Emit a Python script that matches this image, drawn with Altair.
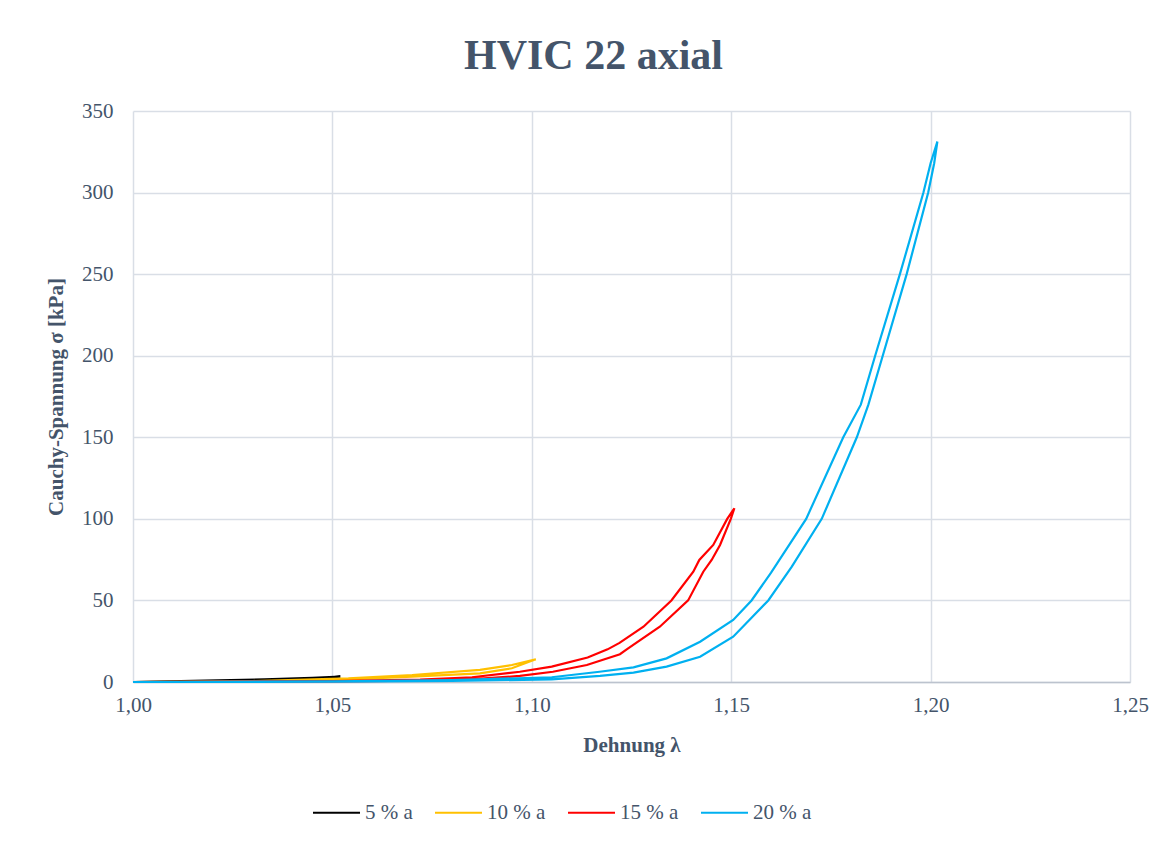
import altair as alt
import pandas as pd

# ---- data ----
series_names = ["5 % a", "10 % a", "15 % a", "20 % a"]
series_colors = ["#000000", "#FFC000", "#FF0000", "#00B0F0"]

lam5_up = [1.000, 1.012, 1.033, 1.045, 1.052]
sig5_up = [0.0, 0.6, 1.6, 2.5, 3.3]
lam5_dn = [1.052, 1.045, 1.033, 1.012, 1.000]
sig5_dn = [3.3, 2.0, 1.0, 0.3, 0.0]

lam10_up = [1.000, 1.030, 1.054, 1.070, 1.087, 1.095, 1.101]
sig10_up = [0.0, 0.6, 2.3, 4.3, 7.4, 10.4, 13.9]
lam10_dn = [1.101, 1.095, 1.087, 1.070, 1.054, 1.030, 1.000]
sig10_dn = [13.9, 8.4, 5.3, 3.3, 1.6, 0.3, 0.0]

lam15_up = [1.000, 1.050, 1.072, 1.085, 1.097, 1.105, 1.114, 1.119, 1.122,
            1.128, 1.135, 1.1405, 1.142, 1.1455, 1.149, 1.1508]
sig15_up = [0.0, 0.6, 1.5, 2.9, 6.3, 9.4, 15.0, 20.0, 24.0,
            33.9, 50.0, 67.6, 74.8, 84.0, 100.0, 106.5]
lam15_dn = [1.1508, 1.1499, 1.1472, 1.1451, 1.1430, 1.1392, 1.1321, 1.1238,
            1.1221, 1.1138, 1.1053, 1.0970, 1.0845, 1.0717, 1.050, 1.000]
sig15_dn = [106.5, 100.0, 84.0, 74.8, 67.6, 50.0, 33.9, 20.0,
            17.0, 10.4, 6.3, 3.7, 1.6, 0.8, 0.3, 0.0]

lam20_up = [1.000, 1.050, 1.080, 1.105, 1.117, 1.1255, 1.1338, 1.1422, 1.1505,
            1.1551, 1.1600, 1.1688, 1.1781, 1.1825, 1.1861, 1.1923, 1.1982,
            1.2000, 1.2017]
sig20_up = [0.0, 0.4, 1.2, 2.9, 6.3, 9.0, 14.5, 24.7, 38.0,
            50.0, 67.0, 100.0, 150.0, 170.0, 200.0, 250.0, 300.0,
            318.0, 331.3]
lam20_dn = [1.2017, 1.2009, 1.1994, 1.1940, 1.1880, 1.1844, 1.1815, 1.1727,
            1.1652, 1.1593, 1.1505, 1.1422, 1.1338, 1.1255, 1.1171, 1.105,
            1.080, 1.050, 1.000]
sig20_dn = [331.3, 318.0, 300.0, 250.0, 200.0, 170.0, 150.0, 100.0,
            70.7, 50.0, 27.8, 15.5, 9.4, 5.7, 3.7, 1.6,
            0.7, 0.2, 0.0]

x_ticks = [1.00, 1.05, 1.10, 1.15, 1.20, 1.25]
y_ticks = [0, 50, 100, 150, 200, 250, 300, 350]

loops = [
    (lam5_up + lam5_dn, sig5_up + sig5_dn),
    (lam10_up + lam10_dn, sig10_up + sig10_dn),
    (lam15_up + lam15_dn, sig15_up + sig15_dn),
    (lam20_up + lam20_dn, sig20_up + sig20_dn),
]
rows = []
for name, (lams, sigs) in zip(series_names, loops):
    for i, (l, s) in enumerate(zip(lams, sigs)):
        rows.append({"series": name, "lam": l, "sig": s, "idx": i})
df = pd.DataFrame(rows)

FONT = "Liberation Serif"
TXT = "#44546A"

chart = alt.Chart(df).mark_line(strokeWidth=2.2).encode(
    x=alt.X("lam:Q",
            scale=alt.Scale(domain=[1.0, 1.25], nice=False, zero=False),
            axis=alt.Axis(values=x_ticks, title="Dehnung λ",
                          labelExpr="replace(format(datum.value, '.2f'), '.', ',')",
                          labelFlush=False, ticks=False, labelPadding=12,
                          titlePadding=19, domainColor="#BCC3CE", domainWidth=1.5)),
    y=alt.Y("sig:Q",
            scale=alt.Scale(domain=[0, 350], nice=False),
            axis=alt.Axis(values=y_ticks, title="Cauchy-Spannung σ [kPa]",
                          labelFlush=False, ticks=False, labelPadding=20,
                          titlePadding=15, domain=False)),
    color=alt.Color("series:N",
                    scale=alt.Scale(domain=series_names, range=series_colors),
                    legend=alt.Legend(title=None, orient="none", direction="horizontal",
                                      legendX=179, legendY=677,
                                      symbolType="stroke", symbolSize=2209,
                                      symbolStrokeWidth=2, labelOffset=4,
                                      columnPadding=18, labelFont=FONT,
                                      labelFontSize=21, labelColor=TXT)),
    detail="series:N",
    order="idx:Q",
).properties(
    width=997, height=571,
    autosize="none",
    padding={"left": 125, "top": 103, "right": 37, "bottom": 160},
    title=alt.TitleParams("HVIC 22 axial", font=FONT, fontSize=42, fontWeight="bold",
                          color=TXT, anchor="middle", dx=-38, offset=22),
).configure_axis(
    labelFont=FONT, labelFontSize=21, labelColor=TXT,
    titleFont=FONT, titleFontSize=21, titleFontWeight="bold", titleColor=TXT,
    gridColor="#D9DEE6", gridWidth=1.5,
).configure_view(
    strokeWidth=0
)

chart.save("out.html", embed_options={"renderer": "svg", "actions": False})
